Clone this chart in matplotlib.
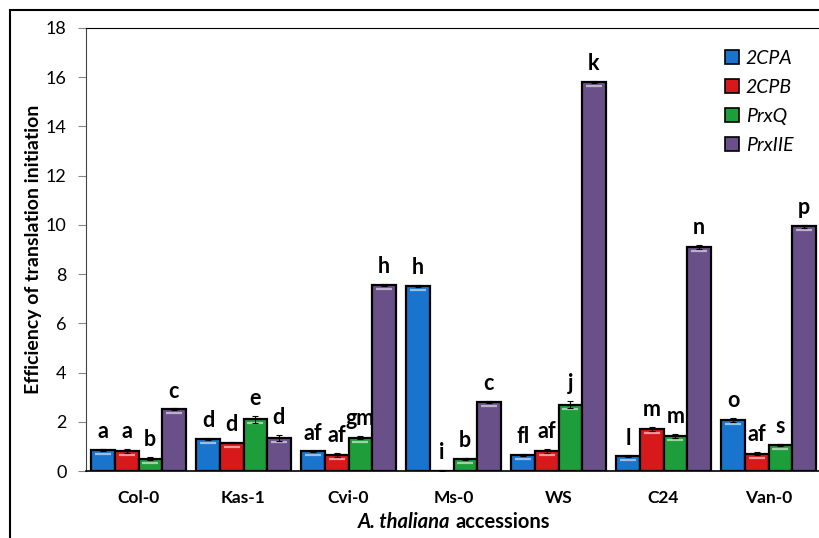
import matplotlib
matplotlib.use("Agg")
import matplotlib.pyplot as plt
import matplotlib.transforms as mtransforms
import matplotlib.colors as mcolors
import numpy as np
from matplotlib.patches import Rectangle, Patch

accessions = ["Col-0", "Kas-1", "Cvi-0", "Ms-0", "WS", "C24", "Van-0"]
genes = ["2CPA", "2CPB", "PrxQ", "PrxIIE"]

val_2cpa = [0.85, 1.30, 0.80, 7.50, 0.65, 0.60, 2.07]
val_2cpb = [0.80, 1.15, 0.65, 0.02, 0.80, 1.72, 0.70]
val_prxq = [0.50, 2.10, 1.35, 0.50, 2.70, 1.42, 1.05]
val_prxiie = [2.50, 1.35, 7.55, 2.80, 15.80, 9.10, 9.95]

err_2cpa = [0.05, 0.05, 0.03, 0.04, 0.05, 0.03, 0.07]
err_2cpb = [0.08, 0.03, 0.07, 0.01, 0.08, 0.08, 0.06]
err_prxq = [0.07, 0.15, 0.07, 0.04, 0.15, 0.07, 0.04]
err_prxiie = [0.04, 0.12, 0.04, 0.03, 0.05, 0.10, 0.06]

let_2cpa = ["a", "d", "af", "h", "fl", "l", "o"]
let_2cpb = ["a", "d", "af", "i", "af", "m", "af"]
let_prxq = ["b", "e", "gm", "b", "j", "m", "s"]
let_prxiie = ["c", "d", "h", "c", "k", "n", "p"]

yticks = [0, 2, 4, 6, 8, 10, 12, 14, 16, 18]

colors = ["#1874CD", "#D7191C", "#1E9E3A", "#6A5089"]

plt.rcParams['font.family'] = ['Lato', 'DejaVu Sans']

W, H = 819, 538
fig = plt.figure(figsize=(W / 100, H / 100), dpi=100)
ax_left, ax_right, ax_top, ax_bot = 86, 821, 28, 471
ax = fig.add_axes([ax_left / W, (H - ax_bot) / H, (ax_right - ax_left) / W, (ax_bot - ax_top) / H])

# outer frame
fig.patches.append(Rectangle((10 / W, -0.1), 1.2, (H - 10) / H + 0.1, transform=fig.transFigure,
                             fill=False, edgecolor="black", linewidth=1.5, clip_on=False))

x = np.arange(len(accessions))
bw = 0.224
series = [(val_2cpa, err_2cpa, let_2cpa), (val_2cpb, err_2cpb, let_2cpb),
          (val_prxq, err_prxq, let_prxq), (val_prxiie, err_prxiie, let_prxiie)]
gloss = mtransforms.offset_copy(ax.transData, fig=fig, y=-4, units="dots")
for i, (vals, errs, lets) in enumerate(series):
    pos = x + (i - 1.5) * bw
    ax.bar(pos, vals, width=bw, color=colors[i], edgecolor="black", linewidth=1.6, zorder=2)
    light = mcolors.to_rgb(colors[i])
    light = tuple(c + (1 - c) * 0.55 for c in light)
    for p, v in zip(pos, vals):
        if v > 0.3:
            ax.plot([p - bw * 0.35, p + bw * 0.35], [v, v], color=light, lw=1.6,
                    transform=gloss, zorder=2.5, solid_capstyle="butt")
    ax.errorbar(pos, vals, yerr=errs, fmt="none", ecolor="black", elinewidth=0.8,
                capsize=2.5, capthick=0.8, zorder=3)
    for p, v, e, l in zip(pos, vals, errs, lets):
        ax.annotate(l, (p, v + e), xytext=(0, 5), textcoords="offset points",
                    ha="center", va="bottom", fontsize=15.5, fontweight="bold")

ax.set_xlim(-0.5, len(accessions) - 0.5)
ax.set_ylim(0, 18)
ax.set_yticks(yticks)
ax.set_yticklabels([str(t) for t in yticks], fontsize=13)
ax.set_xticks(x)
ax.set_xticklabels(accessions, fontsize=12.5, fontweight="bold")
ax.tick_params(axis="x", length=0, pad=14)
ax.tick_params(axis="y", length=6, width=0.8, color="#888888", direction="out", pad=8)
for s in ["top", "left", "right"]:
    ax.spines[s].set_linewidth(0.8)
ax.spines["bottom"].set_linewidth(1.2)
ax.spines["left"].set_color("#444444")

ax.set_ylabel("Efficiency of translation initiation", fontsize=14, fontweight="bold", labelpad=3)

fig.text(455 / W, 1 - 522 / H, "A. thaliana ", ha="right", va="center", fontsize=14.5,
         fontweight="bold", fontstyle="italic")
fig.text(455 / W, 1 - 522 / H, "accessions", ha="left", va="center", fontsize=14.5, fontweight="bold")

handles = [Patch(facecolor=c, edgecolor="black", linewidth=1.2) for c in colors]
leg = ax.legend(handles, genes, loc="upper right", bbox_to_anchor=(1 - 10 / (ax_right - ax_left), 0.99),
                frameon=False, prop={"style": "italic", "size": 14},
                handlelength=0.7, handleheight=0.7, handletextpad=0.35, labelspacing=0.62)

fig.savefig("out.png", dpi=100)
